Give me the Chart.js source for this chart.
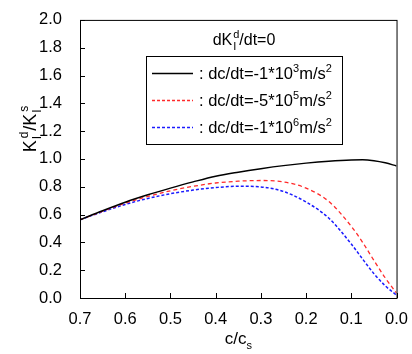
<!DOCTYPE html>
<html>
<head>
<meta charset="utf-8">
<script src="https://cdn.jsdelivr.net/npm/chart.js@4/dist/chart.umd.min.js"></script>
<style>
  html, body { margin: 0; padding: 0; background: #fff; }
  #wrap { width: 412px; height: 354px; }
</style>
</head>
<body>
<div id="wrap"><canvas id="chart" width="412" height="354"></canvas></div>
<script>
// c/c_s values (x axis is reversed: 0.7 on the left, 0.0 on the right)
const cRatio = [0.7, 0.65, 0.6, 0.55, 0.5, 0.45, 0.4, 0.35, 0.3, 0.25, 0.2, 0.15, 0.1, 0.075, 0.05, 0.025, 0.0];

// K_I^d / K_I^s for each loading rate
const rate1e3 = [0.563, 0.628, 0.689, 0.742, 0.790, 0.835, 0.876, 0.905, 0.930, 0.952, 0.970, 0.984, 0.993, 0.994, 0.987, 0.972, 0.950];
const rate5e5 = [0.563, 0.624, 0.682, 0.730, 0.771, 0.803, 0.827, 0.840, 0.845, 0.835, 0.790, 0.695, 0.515, 0.400, 0.270, 0.145, 0.035];
const rate1e6 = [0.563, 0.620, 0.673, 0.716, 0.750, 0.776, 0.794, 0.804, 0.799, 0.766, 0.690, 0.575, 0.388, 0.280, 0.175, 0.088, 0.020];

const xTicks = [0.7, 0.6, 0.5, 0.4, 0.3, 0.2, 0.1, 0.0];
const yTicks = [0.0, 0.2, 0.4, 0.6, 0.8, 1.0, 1.2, 1.4, 1.6, 1.8, 2.0];

const FONT = '"Liberation Sans", Arial, sans-serif';

function pts(ys) {
    return cRatio.map((c, i) => ({ x: c, y: ys[i] }));
}

// draw text made of pieces, some raised (sup) or lowered (sub)
function richText(ctx, x, y, parts, size) {
    let cx = x;
    parts.forEach(p => {
        const s = (p.sup || p.sub) ? Math.round(size * 0.66) : size;
        ctx.font = s + "px " + FONT;
        const dy = p.sup ? -size * 0.45 : p.sub ? size * 0.3 : 0;
        ctx.fillText(p.t, cx + (p.dx || 0), y + dy);
        if (!p.keep) cx += ctx.measureText(p.t).width + (p.gap || 0);
    });
    return cx;
}

function richWidth(ctx, parts, size) {
    let w = 0;
    parts.forEach(p => {
        const s = (p.sup || p.sub) ? Math.round(size * 0.66) : size;
        ctx.font = s + "px " + FONT;
        if (!p.keep) w += ctx.measureText(p.t).width + (p.gap || 0);
    });
    return w;
}

const decorPlugin = {
    id: "decor",
    afterDraw(chart) {
        const ctx = chart.ctx;
        const a = chart.chartArea;
        const xs = chart.scales.x, ys = chart.scales.y;
        ctx.save();
        ctx.strokeStyle = "#000";
        ctx.lineWidth = 1;
        ctx.strokeRect(a.left + 0.5, a.top + 0.5, a.right - a.left, a.bottom - a.top);

        // inward ticks
        ctx.beginPath();
        xTicks.forEach(v => {
            const px = Math.round(xs.getPixelForValue(v)) + 0.5;
            ctx.moveTo(px, a.bottom);
            ctx.lineTo(px, a.bottom - 5);
        });
        yTicks.forEach(v => {
            const py = Math.round(ys.getPixelForValue(v)) + 0.5;
            ctx.moveTo(a.left, py);
            ctx.lineTo(a.left + 5, py);
        });
        ctx.stroke();

        ctx.fillStyle = "#000";
        ctx.textBaseline = "alphabetic";
        ctx.textAlign = "left";

        // annotation above legend
        const title = [{ t: "dK" }, { t: "I", sub: true, keep: true, dx: 1 }, { t: "d", sup: true, dx: 1, gap: 1 }, { t: "/dt=0" }];
        const tw = richWidth(ctx, title, 16);
        richText(ctx, 244 - tw / 2, 45, title, 16);

        // legend box
        ctx.strokeRect(146.5, 56.5, 196, 88);
        const rows = [
            { y: 73, color: "#000", dash: [], exp: "3", k: "-1" },
            { y: 100, color: "#ff2a2a", dash: [3, 2], exp: "5", k: "-5" },
            { y: 127, color: "#1a1aff", dash: [3, 2], exp: "6", k: "-1" }
        ];
        rows.forEach(r => {
            ctx.save();
            ctx.strokeStyle = r.color;
            ctx.lineWidth = 1.3;
            ctx.setLineDash(r.dash);
            ctx.beginPath();
            ctx.moveTo(152, r.y + 0.5);
            ctx.lineTo(193, r.y + 0.5);
            ctx.stroke();
            ctx.restore();
            richText(ctx, 199, r.y + 6, [
                { t: ": dc/dt=" + r.k + "*10" }, { t: r.exp, sup: true },
                { t: "m/s" }, { t: "2", sup: true }
            ], 16.5);
        });

        // x axis title
        const xt = [{ t: "c/c" }, { t: "s", sub: true }];
        const xw = richWidth(ctx, xt, 17);
        richText(ctx, (a.left + a.right) / 2 - xw / 2, 344, xt, 17);

        // y axis title (rotated)
        ctx.save();
        ctx.translate(36, 129);
        ctx.rotate(-Math.PI / 2);
        const yt = [{ t: "K" }, { t: "I", sub: true, keep: true, dx: 1 }, { t: "d", sup: true, dx: 2, gap: 3 }, { t: "/K" },
                    { t: "I", sub: true, keep: true, dx: 1 }, { t: "s", sup: true, dx: 2, gap: 2 }];
        const yw = richWidth(ctx, yt, 18);
        richText(ctx, -yw / 2, 0, yt, 18);
        ctx.restore();

        ctx.restore();
    }
};

new Chart(document.getElementById("chart"), {
    type: "line",
    data: {
        datasets: [
            { data: pts(rate1e3), borderColor: "#000", borderWidth: 1.5 },
            { data: pts(rate5e5), borderColor: "#ff2a2a", borderWidth: 1.3, borderDash: [4, 3] },
            { data: pts(rate1e6), borderColor: "#1a1aff", borderWidth: 1.5, borderDash: [3, 2] }
        ]
    },
    options: {
        responsive: false,
        animation: false,
        events: [],
        layout: { padding: { top: 14, right: 13, left: 0, bottom: 0 } },
        elements: {
            point: { radius: 0 },
            line: { cubicInterpolationMode: "monotone", fill: false }
        },
        plugins: { legend: { display: false }, tooltip: { enabled: false } },
        scales: {
            x: {
                type: "linear",
                reverse: true,
                min: 0, max: 0.7,
                afterBuildTicks: s => { s.ticks = xTicks.map(v => ({ value: v })); },
                afterFit: s => { s.height = 56; },
                grid: { display: false },
                border: { display: false },
                ticks: {
                    color: "#000",
                    padding: 4,
                    font: { family: FONT, size: 16.5 },
                    callback: v => v.toFixed(1)
                }
            },
            y: {
                min: 0, max: 2,
                afterBuildTicks: s => { s.ticks = yTicks.map(v => ({ value: v })); },
                afterFit: s => { s.width = 80; },
                grid: { display: false },
                border: { display: false },
                ticks: {
                    color: "#000",
                    padding: 10,
                    font: { family: FONT, size: 16.5 },
                    callback: v => v.toFixed(1)
                }
            }
        }
    },
    plugins: [decorPlugin]
});
</script>
</body>
</html>
